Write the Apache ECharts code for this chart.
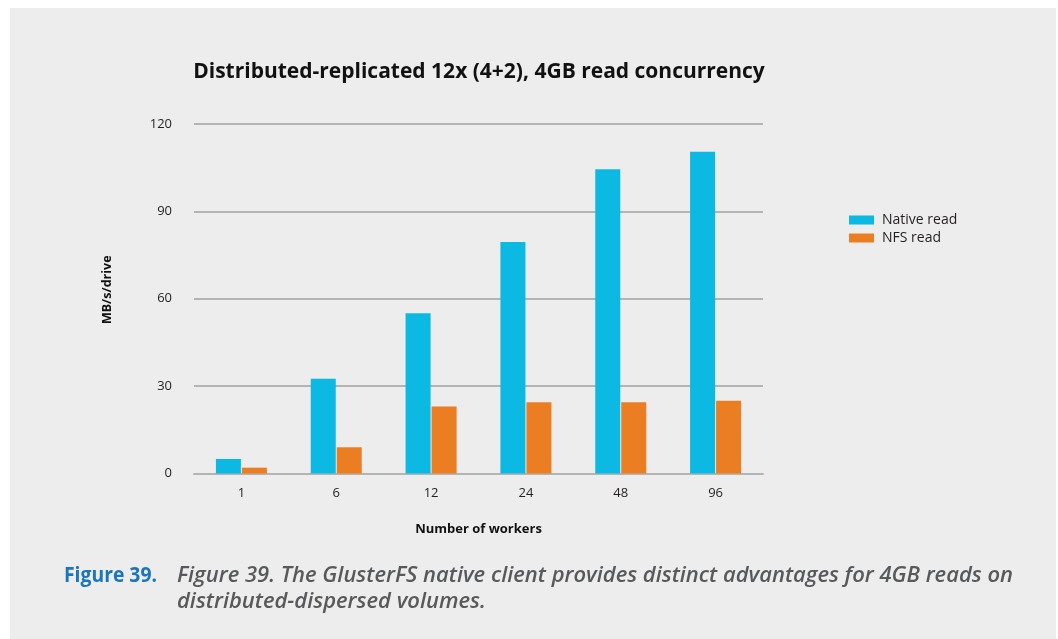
<!DOCTYPE html>
<html>
<head>
<meta charset="utf-8">
<title>Distributed-replicated 12x (4+2), 4GB read concurrency</title>
<script src="https://cdn.jsdelivr.net/npm/echarts@6/dist/echarts.min.js"></script>
<style>
  html, body { margin: 0; padding: 0; background: #ffffff; }
  #chart { width: 1058px; height: 639px; }
</style>
</head>
<body>
<div id="chart"></div>
<script>
// Worker counts along the x axis
const workers = ['1', '6', '12', '24', '48', '96'];
// Read throughput per drive (MB/s)
const nativeRead = [5, 32.5, 55, 79.5, 104.5, 110.5];
const nfsRead = [2, 9, 23, 24.5, 24.5, 25];
// Value axis ticks
const yMin = 0;
const yMax = 120;
const yStep = 30;

const chartTitle = 'Distributed-replicated 12x (4+2), 4GB read concurrency';
const captionLabel = 'Figure 39.';
const captionLine1 = 'Figure 39. The GlusterFS native client provides distinct advantages for 4GB reads on';
const captionLine2 = 'distributed-dispersed volumes.';

const chart = echarts.init(document.getElementById('chart'), null, { renderer: 'canvas' });

const gridColor = '#b4b4b4';
const textColor = '#231f20';
const uiFont = "'Open Sans', 'Noto Sans', sans-serif";
const capFont = "'Open Sans', 'Noto Sans', sans-serif";

// Horizontal squeeze so the caption sets in a condensed width
const measureCtx = document.createElement('canvas').getContext('2d');
function textWidth(text, font) {
  measureCtx.font = font;
  return measureCtx.measureText(text).width;
}
const capSize = 21;
const capItalicFont = `italic 600 ${capSize}px ${capFont}`;
const capBoldFont = `bold ${capSize}px ${capFont}`;
const capScale = 836 / textWidth(captionLine1, capItalicFont);
const labelScale = 93 / textWidth(captionLabel, capBoldFont);

chart.setOption({
  backgroundColor: 'transparent',
  animation: false,
  title: {
    text: chartTitle,
    left: 474,
    top: 57,
    textAlign: 'center',
    textStyle: { fontFamily: uiFont, fontWeight: 'bold', fontSize: 21, color: '#111' }
  },
  legend: {
    orient: 'vertical',
    left: 844,
    top: 208,
    itemWidth: 25,
    itemHeight: 9,
    itemGap: 4,
    icon: 'rect',
    textStyle: { fontFamily: uiFont, fontSize: 14, color: textColor, padding: [0, 0, 0, 3] },
    data: ['Native read', 'NFS read']
  },
  grid: { left: 194, right: 295, top: 124, bottom: 165.5, containLabel: false },
  xAxis: {
    type: 'category',
    data: workers,
    name: 'Number of workers',
    nameLocation: 'middle',
    nameGap: 49,
    nameTextStyle: { fontFamily: uiFont, fontWeight: 'bold', fontSize: 13, color: '#111' },
    axisLine: { lineStyle: { color: gridColor, width: 2 } },
    axisTick: { show: false },
    axisLabel: { margin: 13, fontFamily: uiFont, fontSize: 13, color: textColor }
  },
  yAxis: {
    type: 'value',
    min: yMin,
    max: yMax,
    interval: yStep,
    name: 'MB/s/drive',
    nameLocation: 'middle',
    nameGap: 80,
    nameTextStyle: { fontFamily: uiFont, fontWeight: 'bold', fontSize: 12.5, color: '#111', padding: [0, 0, 0, 18] },
    axisLine: { show: false },
    axisTick: { show: false },
    axisLabel: { margin: 22, fontFamily: uiFont, fontSize: 13, color: textColor },
    splitLine: { lineStyle: { color: gridColor, width: 2 } }
  },
  series: [
    {
      name: 'Native read',
      type: 'bar',
      data: nativeRead,
      barWidth: 25,
      barGap: '4%',
      itemStyle: { color: '#0bb9e2' }
    },
    {
      name: 'NFS read',
      type: 'bar',
      data: nfsRead,
      barWidth: 25,
      itemStyle: { color: '#eb7d23' }
    }
  ],
  graphic: [
    {
      type: 'rect',
      z: -10,
      silent: true,
      shape: { x: 10, y: 8, width: 1046, height: 631 },
      style: { fill: '#ededed' }
    },
    {
      type: 'text',
      x: 64,
      y: 576,
      scaleX: labelScale,
      style: {
        text: captionLabel,
        font: capBoldFont,
        fill: '#1b75bc',
        textVerticalAlign: 'middle'
      }
    },
    {
      type: 'text',
      x: 177,
      y: 576,
      scaleX: capScale,
      style: {
        text: captionLine1,
        font: capItalicFont,
        fill: '#58595b',
        textVerticalAlign: 'middle'
      }
    },
    {
      type: 'text',
      x: 177,
      y: 602,
      scaleX: capScale,
      style: {
        text: captionLine2,
        font: capItalicFont,
        fill: '#58595b',
        textVerticalAlign: 'middle'
      }
    }
  ]
});
</script>
</body>
</html>
